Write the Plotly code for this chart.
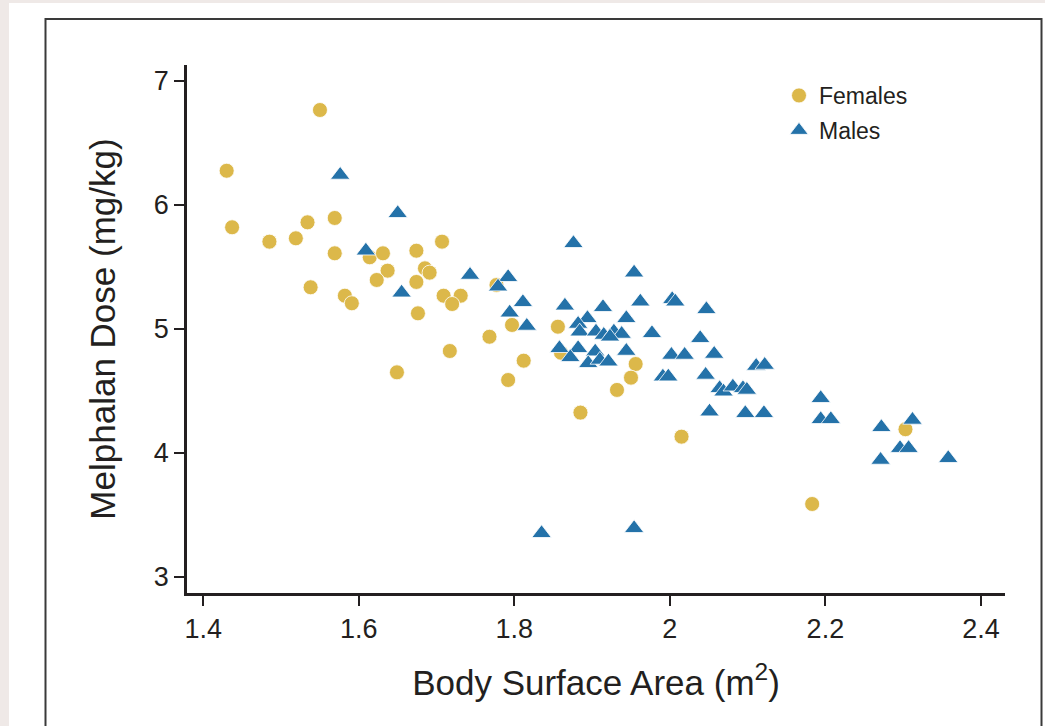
import plotly.graph_objects as go

# Body surface area (m^2) and melphalan dose (mg/kg)
female_bsa = [1.550, 1.430, 1.437, 1.485, 1.519, 1.534, 1.569, 1.569, 1.614, 1.631,
              1.674, 1.707, 1.637, 1.685, 1.691, 1.623, 1.674, 1.538, 1.582, 1.591,
              1.709, 1.731, 1.720, 1.676, 1.717, 1.649, 1.777, 1.797, 1.768, 1.856,
              1.860, 1.812, 1.792, 1.956, 1.950, 1.932, 1.885, 2.015, 2.303, 2.183]
female_dose = [6.764, 6.274, 5.818, 5.702, 5.729, 5.858, 5.893, 5.608, 5.576, 5.608,
               5.629, 5.702, 5.468, 5.487, 5.452, 5.393, 5.377, 5.334, 5.266, 5.205,
               5.266, 5.266, 5.199, 5.124, 4.820, 4.648, 5.352, 5.030, 4.935, 5.016,
               4.806, 4.742, 4.586, 4.715, 4.605, 4.506, 4.323, 4.129, 4.189, 3.586]

male_bsa = [1.576, 1.650, 1.609, 1.655, 1.743, 1.792, 1.779, 1.876, 1.954, 1.811,
            1.794, 1.816, 1.865, 1.914, 1.962, 2.003, 2.007, 2.047, 1.894, 1.882,
            1.884, 1.905, 1.915, 1.928, 1.938, 1.923, 1.944, 1.977, 1.858, 1.882,
            1.872, 1.904, 1.895, 1.910, 1.921, 1.944, 2.039, 2.002, 2.019, 2.057,
            1.991, 1.998, 2.046, 2.111, 2.122, 2.064, 2.069, 2.081, 2.094, 2.099,
            2.051, 2.097, 2.121, 2.194, 2.194, 2.207, 2.272, 2.312, 2.296, 2.307,
            2.271, 2.358, 1.835, 1.954]
male_dose = [6.240, 5.931, 5.629, 5.290, 5.433, 5.415, 5.339, 5.689, 5.452, 5.213,
             5.129, 5.022, 5.185, 5.173, 5.218, 5.237, 5.218, 5.156, 5.084, 5.038,
             4.976, 4.976, 4.949, 4.976, 4.957, 4.935, 5.084, 4.963, 4.842, 4.842,
             4.769, 4.815, 4.721, 4.748, 4.734, 4.820, 4.923, 4.788, 4.788, 4.796,
             4.613, 4.613, 4.627, 4.699, 4.707, 4.519, 4.492, 4.532, 4.519, 4.506,
             4.331, 4.318, 4.318, 4.439, 4.269, 4.269, 4.205, 4.264, 4.036, 4.036,
             3.941, 3.955, 3.350, 3.390]

x_ticks = [1.4, 1.6, 1.8, 2.0, 2.2, 2.4]
x_ticktext = ["1.4", "1.6", "1.8", "2", "2.2", "2.4"]
y_ticks = [3, 4, 5, 6, 7]

FONT = "Liberation Sans, Arial, Helvetica, sans-serif"
GOLD = "#DCB84A"
BLUE = "#2472A9"
INK = "#231F20"

fig = go.Figure()
fig.add_trace(go.Scatter(
    x=female_bsa, y=female_dose, mode="markers", name="Females",
    legendgroup="f",
    marker=dict(symbol="circle", size=15, color=GOLD,
                line=dict(width=1, color="rgba(255,255,255,0.8)")),
))
fig.add_trace(go.Scatter(
    x=male_bsa, y=male_dose, mode="markers", name="Males",
    legendgroup="m",
    marker=dict(symbol="triangle-up", size=17, color=BLUE,
                line=dict(width=1, color="rgba(255,255,255,0.8)")),
))

L, R, T, B = 187, 40, 65, 133
W, H = 1045, 726
pw, ph = W - L - R, H - T - B

def px2paper_x(px):
    return (px - L) / pw

def px2paper_y(py):
    return (H - B - py) / ph

shapes = [
    # white page region
    dict(type="rect", xref="paper", yref="paper", layer="below",
         x0=px2paper_x(9), x1=px2paper_x(1060), y0=px2paper_y(760), y1=px2paper_y(3),
         fillcolor="white", line=dict(width=0)),
    # frame
    dict(type="rect", xref="paper", yref="paper", layer="below",
         x0=px2paper_x(45.5), x1=px2paper_x(1041.5), y0=px2paper_y(760), y1=px2paper_y(19),
         fillcolor="rgba(0,0,0,0)", line=dict(width=2, color="#3a3a3a")),
]

fig.update_layout(
    width=W, height=H,
    margin=dict(l=L, r=R, t=T, b=B),
    paper_bgcolor="#efe9e7",
    plot_bgcolor="white",
    font=dict(family=FONT, color=INK),
    shapes=shapes,
    showlegend=True,
    legend=dict(
        x=px2paper_x(779), y=px2paper_y(74), xanchor="left", yanchor="top",
        font=dict(size=23, family=FONT, color=INK),
        bgcolor="rgba(0,0,0,0)", traceorder="grouped", tracegroupgap=2,
    ),
    xaxis=dict(
        range=[1.379, 2.431], tickmode="array", tickvals=x_ticks, ticktext=x_ticktext,
        showgrid=False, zeroline=False, showline=True, linewidth=2.5, linecolor=INK,
        ticks="outside", ticklen=10, tickwidth=2, tickcolor=INK,
        tickfont=dict(size=27, family=FONT, color=INK),
        title=dict(text="Body Surface Area (m<sup>2</sup>)", standoff=28,
                   font=dict(size=35, family=FONT, color=INK)),
    ),
    yaxis=dict(
        range=[2.868, 7.127], tickmode="array", tickvals=y_ticks,
        showgrid=False, zeroline=False, showline=True, linewidth=2.5, linecolor=INK,
        ticks="outside", ticklen=10, tickwidth=2, tickcolor=INK,
        tickfont=dict(size=27, family=FONT, color=INK),
        title=dict(text="Melphalan Dose (mg/kg)", standoff=28,
                   font=dict(size=35, family=FONT, color=INK)),
    ),
)

fig.write_html("out.html")
